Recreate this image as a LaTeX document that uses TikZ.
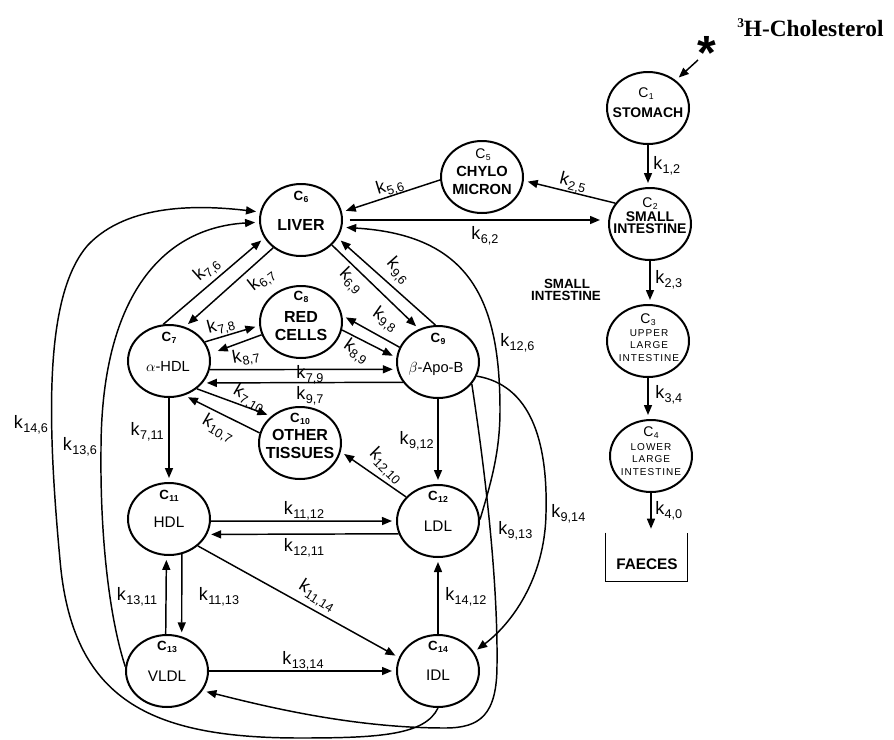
\documentclass[tikz,border=0pt]{standalone}
\usepackage{fontspec}
\setmainfont{Liberation Sans}
\newfontfamily\serifbold{Liberation Serif}
\usetikzlibrary{shapes.geometric,arrows.meta,calc}
\newcommand{\kk}[1]{k\kern0.3pt\raisebox{-0.4ex}{\fontsize{9.5}{9.5}\selectfont #1}}
\newcommand{\cc}[1]{C\kern0.3pt\raisebox{-0.3ex}{\fontsize{6.5}{6.5}\selectfont #1}}
\begin{document}
\begin{tikzpicture}[x=0.75pt,y=0.75pt,
  comp/.style={draw, ellipse, line width=1.5pt, minimum width=61.5pt, minimum height=54pt, inner sep=0pt},
  arr/.style={line width=1.1pt, -{Triangle[length=7.5pt,width=6pt]}, shorten >=3pt},
  klab/.style={font=\fontsize{13.5}{13.5}\selectfont, inner sep=0pt},
  ctag/.style={font=\fontsize{10}{10}\selectfont\bfseries, anchor=base, inner sep=0pt},
  ctagr/.style={font=\fontsize{10.5}{10.5}\selectfont, anchor=base, inner sep=0pt},
  bt/.style={font=\fontsize{12}{12}\selectfont\bfseries, anchor=base, inner sep=0pt},
  bts/.style={font=\fontsize{10.5}{10.5}\selectfont\bfseries, anchor=base, inner sep=0pt},
  rt/.style={font=\fontsize{11.5}{11.5}\selectfont, anchor=base, inner sep=0pt},
  st/.style={font=\fontsize{7.5}{7.5}\selectfont\addfontfeature{LetterSpace=10}, anchor=base, inner sep=0pt},
]
\useasboundingbox (0,0) rectangle (894,-740);

% title and star
\node[anchor=base west, inner sep=0pt, font=\serifbold\bfseries\fontsize{17.5}{17.5}\selectfont] (title) at (737,-36) {\raisebox{0.75ex}{\fontsize{10}{10}\selectfont 3}H-Cholesterol};
\node[anchor=base, inner sep=0pt, font=\fontsize{36}{36}\selectfont\bfseries] (star) at (707,-69) {*};
\coordinate (sttail) at (698,-60);

% compartments
\node[comp] (c1) at (648,-108) {};
\node[ctagr] (c1t) at (646,-97) {\cc{1}};
\node[bts] (c1n) at (648,-117) {STOMACH};

\node[comp] (c2) at (650,-224) {};
\node[ctagr] (c2t) at (650,-207) {\cc{2}};
\node[bts] (c2a) at (650,-221) {SMALL};
\node[bts] (c2b) at (650,-233) {INTESTINE};

\node[comp] (c3) at (648,-341) {};
\node[ctagr] (c3t) at (648,-323) {\cc{3}};
\node[st] (c3a) at (649,-336) {UPPER};
\node[st] (c3b) at (649,-348) {LARGE};
\node[st] (c3c) at (649,-361) {INTESTINE};

\node[comp] (c4) at (651,-456) {};
\node[ctagr] (c4t) at (651,-436) {\cc{4}};
\node[st] (c4a) at (651,-450) {LOWER};
\node[st] (c4b) at (651,-462) {LARGE};
\node[st] (c4c) at (651,-475) {INTESTINE};

\node[comp] (c5) at (482,-177) {};
\node[ctagr] (c5t) at (483,-158) {\cc{5}};
\node[bts, font=\fontsize{11}{11}\selectfont\bfseries] (c5a) at (482,-176) {CHYLO};
\node[bts, font=\fontsize{11}{11}\selectfont\bfseries] (c5b) at (482,-194) {MICRON};

\node[comp] (c6) at (301,-220) {};
\node[ctag] (c6t) at (301,-200) {\cc{6}};
\node[bt] (c6n) at (301,-230) {LIVER};

\node[comp] (c7) at (169,-361) {};
\node[ctag] (c7t) at (169,-341) {\cc{7}};
\node[rt, font=\fontsize{11}{11}\selectfont] (c7n) at (168,-371) {$\alpha$-HDL};

\node[comp] (c8) at (301,-322) {};
\node[ctag] (c8t) at (301,-300) {\cc{8}};
\node[bt] (c8a) at (301,-322) {RED};
\node[bt] (c8b) at (301,-340) {CELLS};

\node[comp] (c9) at (438,-362) {};
\node[ctag] (c9t) at (438,-342) {\cc{9}};
\node[rt, font=\fontsize{11}{11}\selectfont] (c9n) at (436,-372) {$\beta$-Apo-B};

\node[comp] (c10) at (300,-443) {};
\node[ctag] (c10t) at (300,-422) {\cc{10}};
\node[bt] (c10a) at (300,-440) {OTHER};
\node[bt] (c10b) at (300,-458) {TISSUES};

\node[comp] (c11) at (169,-519) {};
\node[ctag] (c11t) at (169,-499) {\cc{11}};
\node[rt] (c11n) at (169,-527) {HDL};

\node[comp] (c12) at (438,-521) {};
\node[ctag] (c12t) at (438,-500) {\cc{12}};
\node[rt] (c12n) at (438,-531) {LDL};

\node[comp] (c13) at (167,-671) {};
\node[ctag] (c13t) at (167,-650) {\cc{13}};
\node[rt] (c13n) at (167,-681) {VLDL};

\node[comp] (c14) at (438,-671) {};
\node[ctag] (c14t) at (438,-650) {\cc{14}};
\node[rt] (c14n) at (438,-680) {IDL};

% faeces box
\node[minimum width=60.75pt, minimum height=36pt, inner sep=0pt] (fa) at (646.5,-557) {};
\draw[line width=1pt] (fa.north west) -- (fa.south west) -- (fa.south east) -- (fa.north east);
\node[bt, font=\fontsize{11.5}{11.5}\selectfont\bfseries] (fat) at (647,-569) {FAECES};

% small intestine label
\node[bts, font=\fontsize{10}{10}\selectfont\bfseries] (sil1) at (567,-288) {SMALL};
\node[bts, font=\fontsize{10}{10}\selectfont\bfseries] (sil2) at (566,-300) {INTESTINE};

% straight connectors
\draw[arr] (sttail) -- (c1.45);
\draw[arr] (c1.south) -- (c1.south |- c2.north);
\draw[arr] (c2.149) -- (c5.-5);
\draw[arr] (c5.184) -- (c6.11);
\draw[arr, shorten <=5pt, shorten >=6pt] (c6.east) -- (c6.east -| c2.west);
\draw[arr] (c2.south) -- (c2.south |- c3.north);
\draw[arr] (c3.south) -- (c3.south |- c4.north);
\draw[arr] (c4.south) -- (c4.south |- fa.north);

\draw[arr] (c7.99) -- (c6.206);
\draw[arr] (c6.225) -- (c7.65);
\draw[arr] (c6.-39) -- (c9.120);
\draw[arr] (c9.94) -- (c6.-26);
\draw[arr] (c7.28) -- (c8.185);
\draw[arr, shorten >=6pt] (c8.198) -- (c7.10);
\draw[arr] (c9.159) -- (c8.9);
\draw[arr] (c8.-11) -- (c9.174);
\draw[arr] (c7.-12) -- (c9.190);
\draw[arr] (c9.210) -- (c7.-33);
\draw[arr] (c7.-45) -- (c10.137);
\draw[arr] (c10.166) -- (c7.-66);
\draw[arr] (c7.south) -- (c11.north);
\draw[arr] (c9.south) -- (c12.north);
\draw[arr] (c12.143) -- (c10.-12);
\draw[arr] (c11.-3) -- (c12.180);
\draw[arr] (c12.198) -- (c11.-22);
\draw[arr] (c11.-70) -- (c13.67);
\draw[arr] (c13.92) -- (c11.-94);
\draw[arr] (c11.-43) -- (c14.161);
\draw[arr] (c13.east) -- (c14.west);
\draw[arr] (c14.north) -- (c12.south);

% curved connectors
\draw[arr] (c12.2) .. controls (492,-480) and (500,-450) .. (500,-410)
  .. controls (500,-300) and (470,-235) .. (c6.-10);
\draw[arr] (c9.-20) .. controls (530,-385) and (548,-440) .. (546,-513)
  .. controls (545,-580) and (510,-625) .. (c14.28);
\draw[arr] (c9.-33) .. controls (485,-470) and (498,-580) .. (497,-665)
  .. controls (497,-715) and (480,-728) .. (445,-728)
  .. controls (350,-728) and (260,-705) .. (c13.-29);
\draw[arr] (c14.south) .. controls (425,-735) and (380,-738) .. (300,-738)
  .. controls (150,-738) and (72,-700) .. (60,-560)
  .. controls (47,-420) and (44,-295) .. (88,-245)
  .. controls (128,-203) and (200,-205) .. (c6.169);
\draw[arr] (c13.174) .. controls (110,-620) and (100,-540) .. (101,-450)
  .. controls (101,-300) and (160,-228) .. (c6.183);

% rate labels
\node[klab, anchor=west] (l12) at (653,-166) {\kk{1,2}};
\node[klab, rotate=-14] (l25) at (573,-183) {\kk{2,5}};
\node[klab, rotate=17] (l56) at (390,-187) {\kk{5,6}};
\node[klab] (l62) at (485,-236) {\kk{6,2}};
\node[klab, anchor=west] (l23) at (655,-280) {\kk{2,3}};
\node[klab, anchor=west] (l34) at (655,-395) {\kk{3,4}};
\node[klab, anchor=west] (l40) at (655,-511) {\kk{4,0}};
\node[klab, rotate=42] (l76) at (207,-270) {\kk{7,6}};
\node[klab, rotate=38] (l67) at (262,-280) {\kk{6,7}};
\node[klab, rotate=-45] (l69) at (351,-281) {\kk{6,9}};
\node[klab, rotate=-48] (l96) at (398,-271) {\kk{9,6}};
\node[klab, rotate=15] (l78) at (221,-326) {\kk{7,8}};
\node[klab, rotate=10] (l87) at (246,-357) {\kk{8,7}};
\node[klab, rotate=-35] (l98) at (385,-320) {\kk{9,8}};
\node[klab, rotate=-35] (l89) at (356,-352) {\kk{8,9}};
\node[klab] (l79) at (310,-375) {\kk{7,9}};
\node[klab] (l97) at (310,-396) {\kk{9,7}};
\node[klab, rotate=-30] (l710) at (249,-399) {\kk{7,10}};
\node[klab, rotate=-30] (l107) at (218,-429) {\kk{10,7}};
\node[klab, anchor=east] (l711) at (164,-432) {\kk{7,11}};
\node[klab, anchor=east] (l912) at (434,-441) {\kk{9,12}};
\node[klab, rotate=-45] (l1210) at (386,-466) {\kk{12,10}};
\node[klab] (l1112) at (304,-511) {\kk{11,12}};
\node[klab] (l1211) at (304,-548) {\kk{12,11}};
\node[klab] (l1113) at (219,-597) {\kk{11,13}};
\node[klab] (l1311) at (137,-597) {\kk{13,11}};
\node[klab, rotate=-32] (l1114) at (317,-596) {\kk{11,14}};
\node[klab] (l1314) at (303,-661) {\kk{13,14}};
\node[klab, anchor=west] (l1412) at (445,-597) {\kk{14,12}};
\node[klab, anchor=west] (l126) at (500,-343) {\kk{12,6}};
\node[klab, anchor=west] (l913) at (498,-531) {\kk{9,13}};
\node[klab, anchor=west] (l914) at (551,-514) {\kk{9,14}};
\node[klab] (l146) at (31,-425) {\kk{14,6}};
\node[klab] (l136) at (80,-447) {\kk{13,6}};
\end{tikzpicture}
\end{document}
